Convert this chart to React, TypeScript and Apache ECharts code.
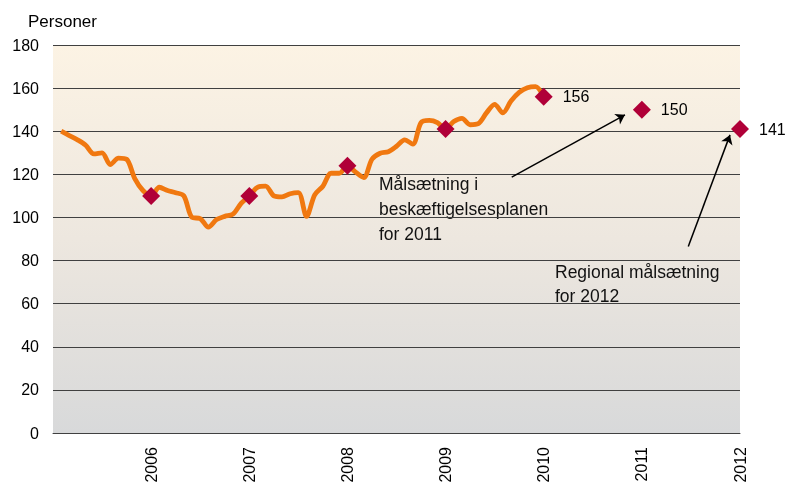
import React, { useEffect, useRef } from "react";
import * as echarts from "echarts";

// Monthly values, Feb 2005 .. Jan 2010
const firstYear = 2005;
const firstMonthIndex = 1; // 0 = Jan 2005
const monthlyValues = [
  140, 138, 136, 133.5, 129.5, 130, 124.5, 127.5, 127, 118, 112.5, // Feb-Dec 2005
  110, 114, 112.5, 111.5, 110, 100, 99.5, 95.5, 99, 100.5, 101.5, 106.5, // 2006
  110, 114, 114.5, 110, 109.5, 111, 111.5, 100.5, 110.5, 114.5, 120.5, 120.5, // 2007
  124, 121, 118.5, 127, 129.8, 130.5, 133, 136, 134, 144, 145, 144, // 2008
  141, 144.5, 146, 143, 143.5, 148.5, 152.5, 148.5, 154, 158, 160.2, 160.7, // 2009
  156, // Jan 2010
];

const targetYears = [2006, 2007, 2008, 2009, 2010, 2011, 2012];
const targetValues = [110, 110, 124, 141, 156, 150, 141];
const labelledYears = [2010, 2011, 2012];

const xLabels = ["2006", "2007", "2008", "2009", "2010", "2011", "2012"];

const note2011 = "Målsætning i\nbeskæftigelsesplanen\nfor 2011";
const note2012 = "Regional målsætning\nfor 2012";
// arrows in data coordinates: [fromX, fromY, toX, toY]
const arrow2011 = [2009.674, 118.7, 2010.828, 147.6];
const arrow2012 = [2011.473, 86.5, 2011.898, 138.3];

const FONT = "'Liberation Sans', Arial, sans-serif";

export default function App() {
  const ref = useRef<HTMLDivElement>(null);
  useEffect(() => {
    if (!ref.current) return;
    const chart = echarts.init(ref.current, undefined, { renderer: "svg" });
    const lineData = monthlyValues.map((v, i) => [firstYear + (firstMonthIndex + i) / 12, v]);
    const targetData = targetYears.map((y, i) => ({
      value: [y, targetValues[i]],
      label: { show: labelledYears.includes(y) },
    }));
    chart.setOption({
      animation: false,
      grid: {
        left: 53,
        right: 46,
        top: 45,
        bottom: 53,
        show: true,
        borderWidth: 0,
        backgroundColor: new echarts.graphic.LinearGradient(0, 0, 0, 1, [
          { offset: 0, color: "#fcf3e4" },
          { offset: 0.5, color: "#ede7df" },
          { offset: 1, color: "#d8d9da" },
        ]),
      },
      xAxis: {
        type: "value",
        min: 2005,
        max: 2012,
        interval: 1,
        axisLine: { show: true, lineStyle: { color: "#404040", width: 1 } },
        axisTick: { show: false },
        splitLine: { show: false },
        axisLabel: {
          rotate: 90,
          margin: 14,
          fontSize: 16,
          fontFamily: FONT,
          color: "#000",
          formatter: (v: number) => {
            const s = String(Math.round(v));
            return Number.isInteger(v) && xLabels.includes(s) ? s : "";
          },
        },
      },
      yAxis: {
        type: "value",
        min: 0,
        max: 180,
        interval: 20,
        axisLine: { show: false },
        axisTick: { show: false },
        splitLine: { lineStyle: { color: "#404040", width: 1 } },
        axisLabel: { margin: 14, fontSize: 16, fontFamily: FONT, color: "#000" },
      },
      series: [
        {
          type: "line",
          data: lineData,
          smooth: 0.3,
          showSymbol: false,
          lineStyle: { color: "#f07810", width: 4.8 },
          z: 2,
          markLine: {
            silent: true,
            symbol: ["none", "arrow"],
            symbolSize: 9,
            label: { show: false },
            lineStyle: { color: "#000", width: 1.5, type: "solid", opacity: 1 },
            data: [
              [
                { coord: [arrow2011[0], arrow2011[1]] },
                { coord: [arrow2011[2], arrow2011[3]] },
              ],
              [
                { coord: [arrow2012[0], arrow2012[1]] },
                { coord: [arrow2012[2], arrow2012[3]] },
              ],
            ],
          },
        },
        {
          type: "scatter",
          data: targetData,
          symbol: "diamond",
          symbolSize: 18,
          itemStyle: { color: "#b00038", opacity: 1 },
          z: 3,
          label: {
            position: "right",
            distance: 10,
            fontSize: 16,
            fontFamily: FONT,
            color: "#000",
            opacity: 1,
            formatter: (p: any) => String(p.value[1]),
          },
        },
      ],
      graphic: [
        {
          type: "text",
          left: 28,
          top: 13,
          style: { text: "Personer", fontSize: 17, fontFamily: FONT, fill: "#000" },
        },
        {
          type: "text",
          left: 379,
          top: 171,
          style: { text: note2011, fontSize: 17.5, lineHeight: 25, fontFamily: FONT, fill: "#111" },
        },
        {
          type: "text",
          left: 555,
          top: 260,
          style: { text: note2012, fontSize: 17.5, lineHeight: 24, fontFamily: FONT, fill: "#111" },
        },
      ],
    });
    return () => chart.dispose();
  }, []);
  return (
    <div
      ref={ref}
      style={{ position: "fixed", left: 0, top: 0, width: 786, height: 486 }}
    />
  );
}
